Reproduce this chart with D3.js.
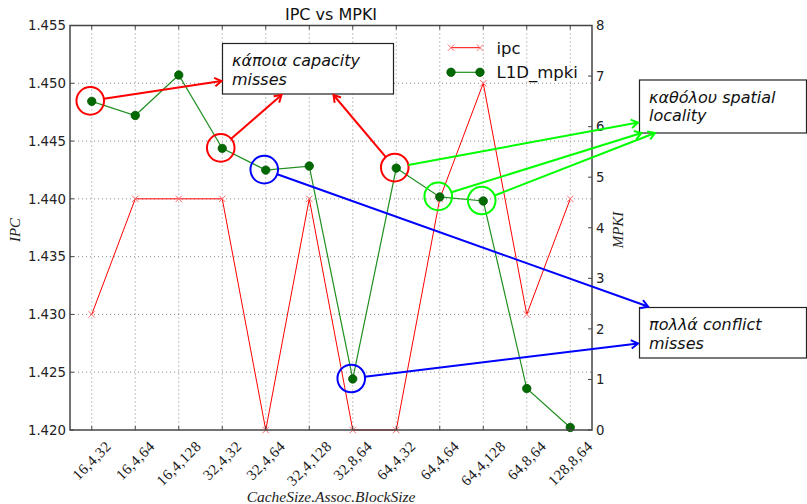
<!DOCTYPE html>
<html><head><meta charset="utf-8">
<script src="https://cdn.jsdelivr.net/npm/d3@7"></script>
<style>body{margin:0;background:#fff}svg{display:block}</style>
</head><body><svg id="c" width="807" height="504"></svg>
<script>
// ---------- data ----------
const categories = ["16,4,32","16,4,64","16,4,128","32,4,32","32,4,64","32,4,128","32,8,64","64,4,32","64,4,64","64,4,128","64,8,64","128,8,64"];
const ipc  = [1.430,1.440,1.440,1.440,1.420,1.440,1.420,1.420,1.440,1.450,1.430,1.440];
const mpki = [6.50,6.22,7.02,5.57,5.14,5.22,1.01,5.18,4.61,4.53,0.82,0.05];
const ipcTicks  = [1.420,1.425,1.430,1.435,1.440,1.445,1.450,1.455];
const mpkiTicks = [0,1,2,3,4,5,6,7,8];
const seriesNames = ["ipc","L1D_mpki"];
const titleText = "IPC vs MPKI";
const xLabel = "CacheSize.Assoc.BlockSize";
const yLabelLeft = "IPC", yLabelRight = "MPKI";
const noteTexts = [["κάποια capacity","misses"],["καθόλου spatial","locality"],["πολλά conflict","misses"]];
// highlighted mpki points (index into data) and which note they point to
const highlights = [
  {index:0, color:"#ff0000", note:0, target:0},
  {index:3, color:"#ff0000", note:0, target:1},
  {index:7, color:"#ff0000", note:0, target:2},
  {index:7, color:"#00ff00", note:1, target:0, noCircle:true},
  {index:8, color:"#00ff00", note:1, target:1},
  {index:9, color:"#00ff00", note:1, target:2},
  {index:4, color:"#0000ff", note:2, target:0},
  {index:6, color:"#0000ff", note:2, target:1}
];

// ---------- layout ----------
const L = 70, R = 592, T = 25.5, B = 430;
const noteBoxes = [
  {x:222.5, y:43.5, w:171, h:50.5, targets:[[221.5,81],[281.5,95],[333.5,95]]},
  {x:639.5, y:80,   w:167, h:53,   targets:[[638,122.5],[641.5,133],[655,133]]},
  {x:639.5, y:307.5,w:167, h:50.5, targets:[[648,306.5],[638,343.5]]}
];

const svg = d3.select("#c");
const x = d3.scaleBand().domain(categories).range([L,R]);
const cx = d => x(d) + x.bandwidth()/2;
const yL = d3.scaleLinear().domain([1.420,1.455]).range([B,T]);
const yR = d3.scaleLinear().domain([0,8]).range([B,T]);

const sans = "DejaVu Sans, sans-serif";
const serif = "Liberation Serif, DejaVu Serif, serif";

// grid
const g = svg.append("g");
g.selectAll(".vg").data(categories).join("line")
  .attr("x1",d=>cx(d)).attr("x2",d=>cx(d)).attr("y1",T).attr("y2",B)
  .attr("stroke","#8a8a8a").attr("stroke-width",1).attr("stroke-dasharray","1,3");
g.selectAll(".hg").data(ipcTicks.slice(1,-1)).join("line")
  .attr("x1",L).attr("x2",R).attr("y1",d=>yL(d)).attr("y2",d=>yL(d))
  .attr("stroke","#8a8a8a").attr("stroke-width",1).attr("stroke-dasharray","1,3");

// ipc line
svg.append("path").datum(ipc)
  .attr("d", d3.line().x((d,i)=>cx(categories[i])).y(d=>yL(d)))
  .attr("fill","none").attr("stroke","#ff0000").attr("stroke-width",1);
const xm = 3.2;
svg.append("g").selectAll("path").data(ipc).join("path")
  .attr("d",(d,i)=>{const px=cx(categories[i]),py=yL(d);
    return `M${px-xm},${py-xm}L${px+xm},${py+xm}M${px-xm},${py+xm}L${px+xm},${py-xm}`;})
  .attr("stroke","#ff6a6a").attr("stroke-width",1).attr("fill","none");

// mpki line
svg.append("path").datum(mpki)
  .attr("d", d3.line().x((d,i)=>cx(categories[i])).y(d=>yR(d)))
  .attr("fill","none").attr("stroke","#1f8f1f").attr("stroke-width",1.2);
svg.append("g").selectAll("circle").data(mpki).join("circle")
  .attr("cx",(d,i)=>cx(categories[i])).attr("cy",d=>yR(d)).attr("r",4.2)
  .attr("fill","#006a00").attr("stroke","#005500").attr("stroke-width",0.8);

// frame
svg.append("rect").attr("x",L).attr("y",T).attr("width",R-L).attr("height",B-T)
  .attr("fill","none").attr("stroke","#444").attr("stroke-width",1.5);

// ticks (inward)
const tk = svg.append("g").attr("stroke","#444").attr("stroke-width",1);
categories.forEach(c=>{
  tk.append("line").attr("x1",cx(c)).attr("x2",cx(c)).attr("y1",B).attr("y2",B-4);
  tk.append("line").attr("x1",cx(c)).attr("x2",cx(c)).attr("y1",T).attr("y2",T+4);
});
ipcTicks.forEach(v=>tk.append("line").attr("x1",L).attr("x2",L+4).attr("y1",yL(v)).attr("y2",yL(v)));
mpkiTicks.forEach(v=>tk.append("line").attr("x1",R).attr("x2",R-4).attr("y1",yR(v)).attr("y2",yR(v)));

// tick labels
svg.append("g").selectAll("text").data(ipcTicks).join("text")
  .attr("x",66).attr("y",d=>yL(d)).attr("dy","0.36em").attr("text-anchor","end")
  .attr("font-family",sans).attr("font-size",13.3).attr("fill","#222").text(d=>d.toFixed(3));
svg.append("g").selectAll("text").data(mpkiTicks).join("text")
  .attr("x",596).attr("y",d=>yR(d)).attr("dy","0.36em").attr("text-anchor","start")
  .attr("font-family",sans).attr("font-size",13.3).attr("fill","#222").text(d=>d);
const xt = svg.append("g");
categories.forEach(c=>{
  const t = xt.append("text").attr("font-family",serif).attr("font-size",15).attr("fill","#1a1a1a")
    .attr("letter-spacing",0.4)
    .attr("text-anchor","middle").attr("dominant-baseline","central").text(c);
  const w = t.node().getComputedTextLength(), h = 10.5;
  const cyy = 440 + (w+h)/(2*Math.SQRT2);
  t.attr("transform",`translate(${cx(c)},${cyy}) rotate(-45)`);
});

// title & axis labels
svg.append("text").attr("x",(L+R)/2).attr("y",20).attr("text-anchor","middle")
  .attr("font-family",sans).attr("font-size",16).attr("fill","#111").text(titleText);
svg.append("text").attr("x",(L+R)/2).attr("y",502).attr("text-anchor","middle")
  .attr("font-family",serif).attr("font-style","italic").attr("font-size",15.5).attr("fill","#222").text(xLabel);
svg.append("text").attr("transform",`translate(20,230) rotate(-90)`).attr("text-anchor","middle")
  .attr("font-family",serif).attr("font-style","italic").attr("font-size",15).attr("fill","#222").text(yLabelLeft);
svg.append("text").attr("transform",`translate(623,230) rotate(-90)`).attr("text-anchor","middle")
  .attr("font-family",serif).attr("font-style","italic").attr("font-size",15).attr("fill","#222").text(yLabelRight);

// legend
const lg = svg.append("g");
const ly = [47.7, 72.3];
lg.append("line").attr("x1",451).attr("x2",480).attr("y1",ly[0]).attr("y2",ly[0]).attr("stroke","#ff0000").attr("stroke-width",1);
[451,480].forEach(px=>lg.append("path")
  .attr("d",`M${px-xm},${ly[0]-xm}L${px+xm},${ly[0]+xm}M${px-xm},${ly[0]+xm}L${px+xm},${ly[0]-xm}`)
  .attr("stroke","#ff6a6a").attr("stroke-width",1));
lg.append("line").attr("x1",451).attr("x2",480).attr("y1",ly[1]).attr("y2",ly[1]).attr("stroke","#1f8f1f").attr("stroke-width",1.2);
[451,480].forEach(px=>lg.append("circle").attr("cx",px).attr("cy",ly[1]).attr("r",4.2).attr("fill","#006a00").attr("stroke","#005500").attr("stroke-width",0.8));
seriesNames.forEach((s,i)=>lg.append("text").attr("x",496.5).attr("y",ly[i]).attr("dy","0.36em")
  .attr("font-family",sans).attr("font-size",16.5).attr("fill","#111").text(s));

// note boxes
noteBoxes.forEach((b,i)=>{
  svg.append("rect").attr("x",b.x).attr("y",b.y).attr("width",b.w).attr("height",b.h)
    .attr("fill","#fff").attr("stroke","#222").attr("stroke-width",1.2);
  noteTexts[i].forEach((line,j)=>svg.append("text").attr("x",b.x+9.5).attr("y",b.y+22.5+j*18.5)
    .attr("font-family",sans).attr("font-style","italic").attr("font-size",16).attr("fill","#111").text(line));
});

// circles and arrows
const rC = 13.8;
highlights.forEach(h=>{
  const px = cx(categories[h.index]) - 1.5, py = yR(mpki[h.index]) - 0.5;
  if(!h.noCircle) svg.append("circle").attr("cx",px).attr("cy",py).attr("r",rC)
    .attr("fill","none").attr("stroke",h.color).attr("stroke-width",2);
  const [tx,ty] = noteBoxes[h.note].targets[h.target];
  const dx = tx-px, dy = ty-py, len = Math.hypot(dx,dy), ux = dx/len, uy = dy/len;
  const sx = px + ux*rC, sy = py + uy*rC;
  svg.append("line").attr("x1",sx).attr("y1",sy).attr("x2",tx).attr("y2",ty)
    .attr("stroke",h.color).attr("stroke-width",2);
  const hl = 8, ha = 32*Math.PI/180;
  const a = Math.atan2(dy,dx);
  const p1 = [tx - hl*Math.cos(a-ha), ty - hl*Math.sin(a-ha)];
  const p2 = [tx - hl*Math.cos(a+ha), ty - hl*Math.sin(a+ha)];
  svg.append("path").attr("d",`M${p1}L${tx},${ty}L${p2}`).attr("fill","none")
    .attr("stroke",h.color).attr("stroke-width",2).attr("stroke-linejoin","miter");
});
</script></body></html>
